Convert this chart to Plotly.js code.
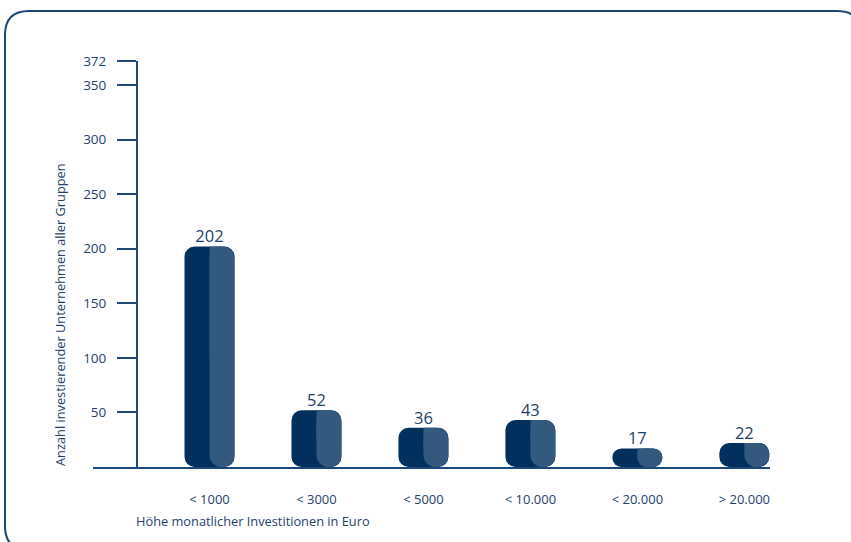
<!DOCTYPE html>
<html>
<head>
<meta charset="utf-8">
<script src="https://cdn.plot.ly/plotly-3.0.1.min.js"></script>
<style>
  html, body { margin: 0; padding: 0; background: #ffffff; }
  #chart { width: 851px; height: 542px; }
</style>
</head>
<body>
<div id="chart"></div>
<script>
// ---- data ----
const categories = ["< 1000", "< 3000", "< 5000", "< 10.000", "< 20.000", "> 20.000"];
const counts = [202, 52, 36, 43, 17, 22];
const yTickVals = [50, 100, 150, 200, 250, 300, 350, 372];
const yTitle = "Anzahl investierender Unternehmen aller Gruppen";
const xTitle = "Höhe monatlicher Investitionen in Euro";

// ---- style ----
const DARK = "#01305e";
const LIGHT = "#34597e";
const INK = "#1d416c";
const LINE = "#1b4877";
const FONT = "Open Sans, Noto Sans, sans-serif";

const W = 851, H = 542;
const M = { l: 93, r: 81, t: 61, b: 75 };
const plotW = W - M.l - M.r, plotH = H - M.t - M.b;
const px = x => (x - M.l) / plotW;
const py = y => 1 - (y - M.t) / plotH;

const BW = 0.467;            // bar width in category units
const zeros = counts.map(() => 0);
const halves = counts.map(v => v / 2);

function barPart(y, base, color, width, offset, radius) {
  return {
    type: "bar", x: categories, y: y, base: base,
    width: width, offset: offset,
    marker: { color: color, cornerradius: radius, line: { width: 0 } },
    hoverinfo: "skip", showlegend: false
  };
}

const traces = [
  // dark full bar
  barPart(counts, zeros, DARK, BW, -BW / 2, 10),
  // lighter right-hand sheen (rounded lower-left gives the curved edge)
  barPart(counts, zeros, LIGHT, BW / 2, 0, 12),
  // square filler so the sheen meets the top edge cleanly
  barPart(halves, halves, LIGHT, 0.11, 0, 0),
  {
    type: "scatter", mode: "text", x: categories, y: counts,
    text: counts.map(String), textposition: "top center",
    textfont: { family: FONT, size: 16.5, color: INK },
    hoverinfo: "skip", showlegend: false, cliponaxis: false
  }
];

// rounded frame (paper coordinates)
function framePath(x0, y0, x1, y1, r) {
  const P = (x, y) => px(x).toFixed(5) + "," + py(y).toFixed(5);
  return "M" + P(x0, y0 + r) +
    " Q" + P(x0, y0) + " " + P(x0 + r, y0) +
    " L" + P(x1 - r, y0) +
    " Q" + P(x1, y0) + " " + P(x1, y0 + r) +
    " L" + P(x1, y1 - r) +
    " Q" + P(x1, y1) + " " + P(x1 - r, y1) +
    " L" + P(x0 + r, y1) +
    " Q" + P(x0, y1) + " " + P(x0, y1 - r) + " Z";
}

const layout = {
  width: W, height: H,
  margin: M,
  paper_bgcolor: "#ffffff",
  plot_bgcolor: "rgba(0,0,0,0)",
  barmode: "overlay",
  font: { family: FONT, color: INK, size: 13 },
  xaxis: {
    type: "category",
    range: [-1.089, 5.24],
    showgrid: false, zeroline: false,
    showline: true, linecolor: LINE, linewidth: 2,
    ticks: "", ticklabelstandoff: 19,
    tickfont: { family: FONT, size: 13, color: INK },
    fixedrange: true
  },
  yaxis: {
    anchor: "free", position: px(137),
    range: [0, 372],
    tickvals: yTickVals,
    showgrid: false, zeroline: false,
    showline: true, linecolor: LINE, linewidth: 2,
    ticks: "outside", ticklen: 19, tickwidth: 2, tickcolor: LINE,
    ticklabelstandoff: 8,
    tickfont: { family: FONT, size: 13.5, color: INK },
    fixedrange: true
  },
  annotations: [
    {
      text: yTitle, xref: "paper", yref: "paper",
      x: px(60), y: py(315), xanchor: "center", yanchor: "middle",
      textangle: -90, showarrow: false,
      font: { family: FONT, size: 12.8, color: INK }
    },
    {
      text: xTitle, xref: "paper", yref: "paper",
      x: px(134), y: py(521), xanchor: "left", yanchor: "middle",
      showarrow: false,
      font: { family: FONT, size: 12.8, color: INK }
    }
  ],
  shapes: [
    {
      type: "path", xref: "paper", yref: "paper", layer: "below",
      path: framePath(5, 11, 861, 550, 24),
      line: { color: LINE, width: 2 }, fillcolor: "rgba(0,0,0,0)"
    }
  ]
};

Plotly.newPlot("chart", traces, layout, { displayModeBar: false, staticPlot: true });
</script>
</body>
</html>
